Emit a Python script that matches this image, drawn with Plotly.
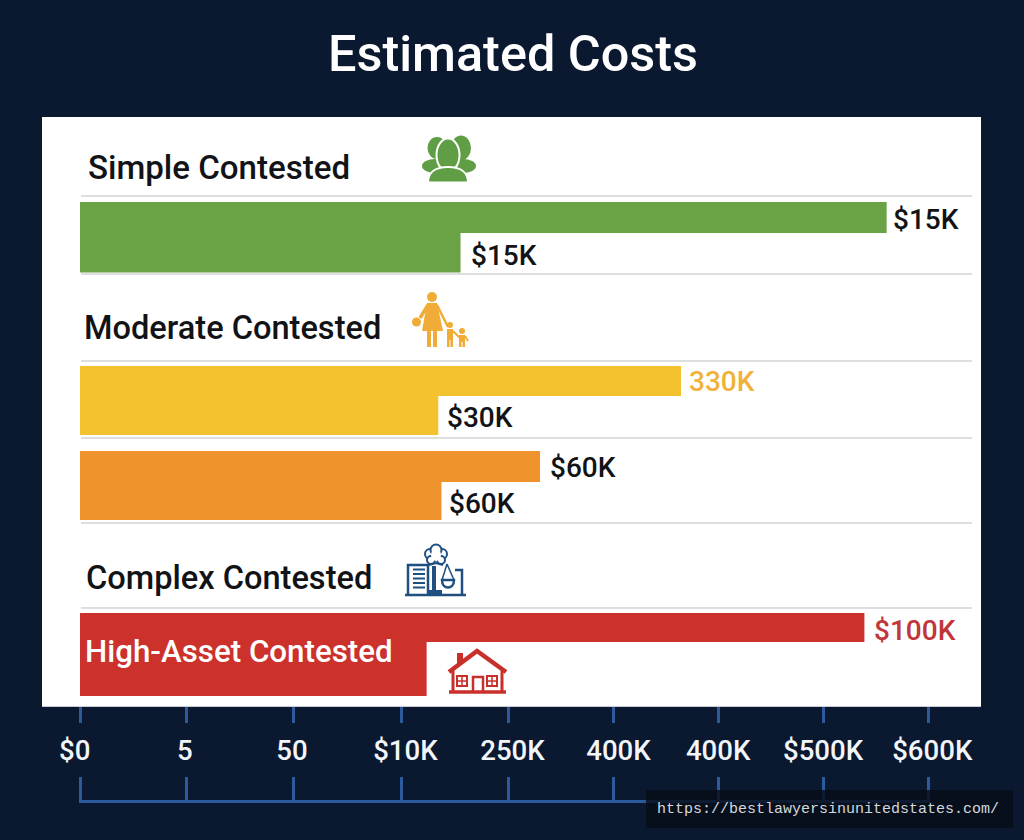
import re
import plotly.graph_objects as go

W, H = 1024, 840

# Cost tiers, read on the scale whose ticks are numbered 0-8
rows = ["Simple heading", "Simple", "Moderate heading", "Moderate", "Moderate upper", "Complex heading", "High-Asset"]
bar_rows = ["Simple", "Moderate", "Moderate upper", "High-Asset"]
upper_lengths = [7.61, 5.67, 4.34, 7.40]
lower_lengths = [3.59, 3.38, 3.41, 3.27]
upper_labels = ["$15K", "330K", "$60K", "$100K"]
lower_labels = ["$15K", "$30K", "$60K", ""]
tick_labels = ["$0", "5", "50", "$10K", "250K", "400K", "400K", "$500K", "$600K"]
tick_marks = [0, 1, 2.01, 3.03, 4.04, 5.03, 6.02, 7.01, 8]
tick_label_centres = [-0.05, 0.99, 2.0, 3.07, 4.08, 5.08, 6.02, 7.01, 8.04]
headings = ["Simple Contested", "Moderate Contested", "Complex Contested"]

# Styling and placement
NAVY = "#0a1930"
BLUE = "#2d5a9c"
INK = "#111316"
FONT = "Roboto"
GREEN, YELLOW, ORANGE, RED = "#6aa246", "#f5c22f", "#ef942c", "#cd312c"
bar_colors = [GREEN, YELLOW, ORANGE, RED]
upper_label_colors = [INK, "#efb23a", INK, "#c0363a"]
upper_gaps = [6, 8, 10, 10]
lower_gaps = [10, 9, 8, 0]
upper_spans = [(202, 233), (366, 396), (451, 482), (613, 642)]
lower_spans = [(233, 272.5), (396, 435), (482, 520), (642, 696)]
upper_label_y = [219.5, 381.5, 467, 630]
lower_label_y = [255, 417, 503, 0]
heading_pos = [(88, 168), (84, 328.5), (86, 578)]
heading_sizes = [33.1, 32.6, 32.6]
rule_y = [196, 274, 361, 438, 523, 608]
ROW_UNIT = 83.6
ROW_ZERO = 153.4
PX_PER_TICK = 106
PANEL = (42, 117, 981, 706)
BRACKET_PAD = 1.5


def fx(px):
    return px / W


def fy(px):
    return 1 - px / H


def row_offsets(spans):
    offs, wids = [], []
    for name, (top, bottom) in zip(bar_rows, spans):
        centre = ROW_ZERO + ROW_UNIT * rows.index(name)
        offs.append((top - centre) / ROW_UNIT)
        wids.append((bottom - top) / ROW_UNIT)
    return offs, wids


fig = go.Figure()
for lengths, spans in ((upper_lengths, upper_spans), (lower_lengths, lower_spans)):
    offs, wids = row_offsets(spans)
    fig.add_trace(go.Bar(
        x=lengths, y=bar_rows, orientation="h", base=0, width=wids, offset=offs,
        marker=dict(color=bar_colors, line=dict(width=0)), hoverinfo="skip", showlegend=False,
    ))

# Empty traces keep the label axis and the lower bracket axis alive
fig.add_trace(go.Scatter(x=[], y=[], xaxis="x3", yaxis="y", hoverinfo="skip", showlegend=False))
fig.add_trace(go.Scatter(x=[], y=[], xaxis="x2", yaxis="y2", hoverinfo="skip", showlegend=False))


def note(text, x, y, size, color, xref="paper", xanchor="left", xshift=0, family=FONT, weight=500):
    return dict(text=text, x=x, y=y, xref=xref, yref="paper", xanchor=xanchor, yanchor="middle",
                xshift=xshift, showarrow=False, borderpad=0, borderwidth=0,
                font=dict(family=family, size=size, color=color, weight=weight))


annotations = []
for text, (px, py), size in zip(headings, heading_pos, heading_sizes):
    annotations.append(note(text, fx(px), fy(py), size, INK))
for value, text, gap, color, py in zip(upper_lengths, upper_labels, upper_gaps, upper_label_colors, upper_label_y):
    annotations.append(note(text, value, fy(py), 28, color, xref="x", xshift=gap))
for value, text, gap, py in zip(lower_lengths, lower_labels, lower_gaps, lower_label_y):
    if text:
        annotations.append(note(text, value, fy(py), 28, INK, xref="x", xshift=gap))
annotations.append(note("High-Asset Contested", fx(85), fy(651), 31.3, "#ffffff"))
annotations.append(note("https://bestlawyersinunitedstates.com/", fx(657), fy(809), 15, "#d4d8de",
                        family="Liberation Mono", weight=400))


def to_paper(path):
    """Turn an absolute M/L/C/Q path in page pixels into paper coordinates."""
    count = [0]

    def swap(match):
        value = float(match.group())
        count[0] += 1
        return f"{fx(value):.5f}" if count[0] % 2 else f"{fy(value):.5f}"

    return re.sub(r"-?\d+\.?\d*", swap, path)


def fill_path(path, color, outline=None, width=0):
    return dict(type="path", xref="paper", yref="paper", path=to_paper(path), fillcolor=color,
                line=dict(color=outline or color, width=width), layer="above")


def stroke(path, color, width):
    return dict(type="path", xref="paper", yref="paper", path=to_paper(path), fillcolor="rgba(0,0,0,0)",
                line=dict(color=color, width=width), layer="above")


def oval(cx, cy, rx, ry, color, outline=None, width=0):
    return dict(type="circle", xref="paper", yref="paper", x0=fx(cx - rx), x1=fx(cx + rx),
                y0=fy(cy + ry), y1=fy(cy - ry), fillcolor=color,
                line=dict(color=outline or color, width=width), layer="above")


def box(x0, y0, x1, y1, color):
    return dict(type="rect", xref="paper", yref="paper", x0=fx(x0), x1=fx(x1), y0=fy(y1), y1=fy(y0),
                fillcolor=color, line=dict(width=0), layer="above")


def group_icon(c):
    white = "#ffffff"
    return [
        oval(437, 148, 9.5, 11, c), oval(461, 148, 10, 12.5, c),
        oval(435, 166, 13, 7, c), oval(463, 166, 13, 7, c),
        oval(448, 155, 11.5, 16.5, c, white, 2),
        fill_path("M428 182.5 C428 172 436 167 448 167 C460 167 468 172 468 182.5 Z", c, white, 2),
    ]


def family_icon(c):
    return [
        oval(432, 297, 5, 5, c),
        fill_path("M427 303 L437 303 L443 331 L422 331 Z", c),
        box(427, 330, 431, 347, c), box(433, 330, 437, 347, c),
        stroke("M428 305 L420 318", c, 3.5), oval(416.5, 322, 4.5, 4.5, c),
        stroke("M437 305 L448 327", c, 2.5),
        oval(450, 325, 3, 3, c),
        box(447, 329, 453, 340, c), box(447, 339, 449.5, 347, c), box(450.5, 339, 453, 347, c),
        stroke("M453 331 L460 338", c, 2),
        oval(462, 331, 3, 3, c),
        box(459, 335, 465, 342, c), box(459, 341, 461.5, 347, c), box(462.5, 341, 465, 347, c),
        stroke("M465 336 L468 341", c, 2),
    ]


def justice_icon(c):
    white = "#ffffff"
    shapes = [
        stroke("M408 594 L408 565 L428 565 L428 594", c, 2.5),
        stroke("M405 595 L466 595", c, 2.5),
        box(432, 566, 436, 593, c),
        box(427, 590, 442, 595, c),
        stroke("M455 570 L462 570 L462 594", c, 2.5),
        stroke("M447 564 L442 580 M447 564 L454 580", c, 1.5),
        fill_path("M442 580 L454 580 C454 590 442 590 442 580 Z", white, c, 2.5),
    ]
    for ly in (569.5, 574, 578.5, 583, 587.5):
        shapes.append(stroke(f"M413 {ly} L425 {ly}", c, 2))
    for cx, cy, r in ((430, 554, 5), (442, 554, 5), (436, 550, 5.5), (431, 560, 4), (441, 560, 4)):
        shapes.append(oval(cx, cy, r, r, white, c, 2))
    shapes.append(oval(436, 555, 5, 6, white))
    shapes.append(stroke("M429 565 L436 563 L443 565", c, 2))
    return shapes


def house_icon(c):
    shapes = [
        box(457, 653, 463, 664, c),
        stroke("M449 672 L477 651 L506 672", c, 4.5),
        stroke("M453 671 L453 691 M502 671 L502 691", c, 3),
        stroke("M449 692 L506 692", c, 3.5),
        stroke("M473 691 L473 677 L483 677 L483 691", c, 2.5),
    ]
    for x0 in (457, 487):
        shapes.append(stroke(f"M{x0} 676 L{x0 + 10} 676 L{x0 + 10} 686 L{x0} 686 Z", c, 2))
        shapes.append(stroke(f"M{x0 + 5} 676 L{x0 + 5} 686 M{x0} 681 L{x0 + 10} 681", c, 1.5))
    return shapes


# White card behind the tiers, then the hairlines between them
shapes = [dict(type="rect", xref="paper", yref="paper", x0=fx(PANEL[0]), x1=fx(PANEL[2]),
               y0=fy(PANEL[3]), y1=fy(PANEL[1]), fillcolor="#ffffff", line=dict(width=0), layer="below")]
shapes += [
    dict(type="line", xref="paper", yref="paper", x0=fx(81), x1=fx(972), y0=fy(py), y1=fy(py),
         line=dict(color="#dcdee0", width=2), layer="below")
    for py in rule_y
]
shapes += group_icon("#5f9e45") + family_icon("#f0ac36") + justice_icon("#1f5080") + house_icon("#c9302c")
shapes.append(dict(type="rect", xref="paper", yref="paper", x0=fx(646), x1=fx(1013), y0=fy(828), y1=fy(790),
                   fillcolor="rgba(9,13,24,0.82)", line=dict(width=0), layer="above"))

x_range = [(PANEL[0] - 80) / PX_PER_TICK, (PANEL[2] - 80) / PX_PER_TICK]
domain_x = [fx(PANEL[0]), fx(PANEL[2])]
# The bracket axis runs a hair past its end ticks so that those ticks are still drawn
bracket_range = [-BRACKET_PAD / PX_PER_TICK, 8 + BRACKET_PAD / PX_PER_TICK]
bracket_domain = [fx(80 - BRACKET_PAD), fx(928 + BRACKET_PAD)]

fig.update_layout(
    width=W, height=H, margin=dict(l=0, r=0, t=0, b=0),
    paper_bgcolor=NAVY, plot_bgcolor="rgba(0,0,0,0)", barmode="overlay",
    title=dict(text="Estimated Costs", x=513 / W, xanchor="center", y=fy(53), yanchor="middle",
               font=dict(family=FONT, size=50.4, color="#ffffff", weight=500)),
    annotations=annotations, shapes=shapes,
    xaxis=dict(domain=domain_x, range=x_range, anchor="y", tickmode="array", tickvals=tick_marks,
               showticklabels=False, ticks="outside", ticklen=16, tickwidth=2.5, tickcolor=BLUE,
               showgrid=False, zeroline=False, showline=True, linecolor="#c9ccd1", linewidth=1),
    xaxis3=dict(domain=domain_x, range=x_range, anchor="y", overlaying="x", side="bottom",
                tickmode="array", tickvals=tick_label_centres, ticktext=tick_labels, ticks="",
                ticklabelstandoff=25, showgrid=False, zeroline=False, showline=False,
                tickfont=dict(family=FONT, size=27.6, color="#f2f5f9", weight=500)),
    yaxis=dict(domain=[fy(PANEL[3]), fy(PANEL[1])], type="category", categoryorder="array", categoryarray=rows,
               range=[(PANEL[3] - ROW_ZERO) / ROW_UNIT, (PANEL[1] - ROW_ZERO) / ROW_UNIT],
               showticklabels=False, ticks="", showgrid=False, zeroline=False, showline=False),
    xaxis2=dict(domain=bracket_domain, range=bracket_range, anchor="y2", tickmode="array", tickvals=tick_marks,
                showticklabels=False, ticks="inside", ticklen=23, tickwidth=2.5, tickcolor=BLUE,
                showgrid=False, zeroline=False, showline=True, linecolor=BLUE, linewidth=2.5),
    yaxis2=dict(domain=[fy(800), fy(777)], anchor="x2", range=[0, 1], visible=False),
)

fig.write_html("out.html")
